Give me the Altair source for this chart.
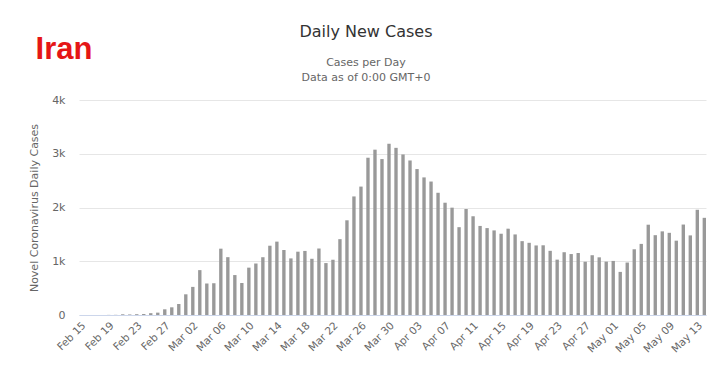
import altair as alt
import pandas as pd

days = (
    [f"Feb {d:02d}" for d in range(15, 30)]
    + [f"Mar {d:02d}" for d in range(1, 32)]
    + [f"Apr {d:02d}" for d in range(1, 31)]
    + [f"May {d:02d}" for d in range(1, 15)]
)

cases = [
    0, 0, 0, 0, 2, 3, 13, 10, 15, 18, 34, 44, 106, 143, 205,
    385, 523, 835, 586, 591, 1234, 1076, 743, 595, 881, 958, 1075, 1289, 1365, 1209,
    1053, 1178, 1192, 1046, 1237, 966, 1028, 1411, 1762, 2206, 2389, 2926, 3076, 2901, 3186, 3110,
    2987, 2875, 2715, 2560, 2483, 2274, 2089, 1997, 1634, 1972, 1837, 1657, 1617, 1574, 1512,
    1606, 1499, 1374, 1343, 1294, 1297, 1194, 1030, 1168, 1134, 1153, 991, 1112, 1073, 993,
    1006, 802, 976, 1223, 1323, 1680, 1485, 1556, 1529, 1383, 1683, 1481, 1958, 1808,
]

tick_days = days[::4]
y_ticks = [0, 1000, 2000, 3000, 4000]

df = pd.DataFrame({"day": days, "cases": cases})

FONT = "DejaVu Sans"

bars = alt.Chart(df).mark_bar(color="#999999").encode(
    x=alt.X(
        "day:O",
        sort=None,
        scale=alt.Scale(paddingInner=0.52, paddingOuter=0),
        axis=alt.Axis(
            values=tick_days,
            labelAngle=-45,
            labelColor="#666666",
            labelFontSize=10.5,
            labelFont=FONT,
            ticks=False,
            domainColor="#ccd6eb",
            grid=False,
            title=None,
            labelPadding=5,
        ),
    ),
    y=alt.Y(
        "cases:Q",
        scale=alt.Scale(domain=[0, 4000], nice=False),
        axis=alt.Axis(
            values=y_ticks,
            labelExpr="datum.value == 0 ? '0' : (datum.value / 1000) + 'k'",
            labelColor="#666666",
            labelFontSize=11,
            labelFont=FONT,
            ticks=False,
            domain=False,
            gridColor="#e6e6e6",
            labelPadding=14,
            title="Novel Coronavirus Daily Cases",
            titleFont=FONT,
            titleFontSize=11,
            titleFontWeight="normal",
            titleColor="#666666",
            titlePadding=12,
        ),
    ),
)

def label(txt, x, y, size, color, weight="normal", font=FONT):
    return alt.Chart(pd.DataFrame({"t": [txt]})).mark_text(
        fontSize=size, color=color, fontWeight=weight, font=font,
        align="center", baseline="middle",
    ).encode(text="t:N", x=alt.value(x), y=alt.value(y))

chart = alt.layer(
    bars,
    label("Daily New Cases", 287, -68, 16, "#333333"),
    label("Cases per Day", 287, -37, 11, "#666666"),
    label("Data as of 0:00 GMT+0", 287, -22, 11, "#666666"),
    label("Iran", -15, -50, 31, "#e51616", "bold", "Liberation Sans"),
).properties(
    width=627,
    height=215,
    autosize=alt.AutoSizeParams(type="none"),
    padding={"left": 71, "top": 92, "right": 10, "bottom": 50},
).configure_view(stroke=None)

chart.save("out.html", embed_options={"renderer": "svg", "actions": False})
